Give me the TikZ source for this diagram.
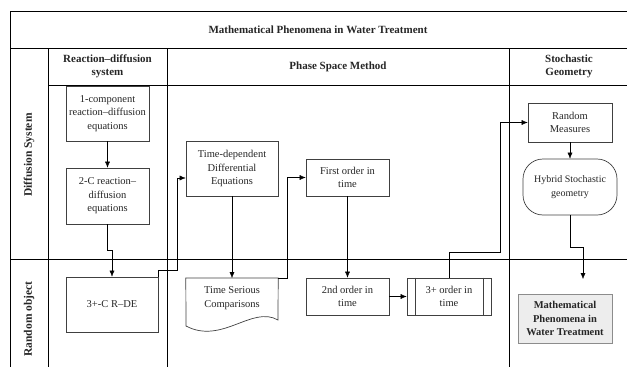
\documentclass[tikz,border=0pt]{standalone}
\usepackage{fontspec}
\setmainfont{Liberation Serif}
\usetikzlibrary{positioning, arrows.meta}
\tikzstyle{every node}=[font=\fontsize{10.5}{13.5}\selectfont, text=black!85]
\tikzstyle{block}=[draw=black!75, line width=0.7pt, rectangle, align=center, inner sep=1pt]
\tikzstyle{head}=[font=\fontsize{11}{13.5}\selectfont\bfseries, align=center]
\tikzstyle{lanebox}=[font=\fontsize{11.5}{13.5}\selectfont\bfseries, rotate=90]
\tikzstyle{grid}=[line width=0.8pt, black]

\begin{document}
\begin{tikzpicture}[x=1pt, y=-1pt, >={Latex[length=6pt, width=5pt]}]
            \useasboundingbox (0,0) rectangle (627,367);
            \draw[grid] (10,367) -- (10,11) -- (627,11);
            \draw[grid] (10,48) -- (627,48);
            \draw[grid] (48,85) -- (627,85);
            \draw[grid] (10,259) -- (627,259);
            \draw[grid] (48,48) -- (48,367);
            \draw[grid] (167,48) -- (167,367);
            \draw[grid] (509,48) -- (509,367);

            \node[head] (title) at (318,30) {Mathematical Phenomena in Water Treatment};
            \node[head] (hrd) at (107.5,66.5) {Reaction--diffusion\\system};
            \node[head] (hps) at (338,66.5) {Phase Space Method};
            \node[head] (hsg) at (569,66.5) {Stochastic\\Geometry};
            \node[lanebox] (ldiff) at (29,155) {Diffusion System};
            \node[lanebox] (lrand) at (29,319) {Random object};

            \node[block, minimum width=83, minimum height=55] (oneC) at (107.5,113.5) {1-component\\reaction--diffusion\\equations};
            \node[block, minimum width=83, minimum height=56] (twoC) at (107.5,196) {2-C reaction--\\diffusion\\equations};
            \node[block, minimum width=92, minimum height=55] (crde) at (112,304.5) {3+-C R--DE};
            \node[block, minimum width=92, minimum height=55] (tde) at (232,168.5) {Time-dependent\\Differential\\Equations};
            \node[minimum width=92, minimum height=40, align=center, anchor=north] (tsc) at (232,278) {Time Serious\\Comparisons};
            \draw[draw=black!75, line width=0.7pt] (tsc.north west) -- (tsc.north east) -- (278,320)
                .. controls (252,305) and (222,345) .. (186,326) -- cycle;
            \node[block, minimum width=83, minimum height=37] (first) at (347.5,177.5) {First order in\\time};
            \node[block, minimum width=83, minimum height=37] (second) at (347.5,296.5) {2nd order in\\time};
            \node[block, minimum width=84, minimum height=37] (third) at (449,296.5) {3+ order in\\time};
            \draw[draw=black!75, line width=0.7pt] ([xshift=9]third.north west) -- ([xshift=9]third.south west)
                ([xshift=-8]third.north east) -- ([xshift=-8]third.south east);
            \node[block, minimum width=84, minimum height=39] (rm) at (570,122.5) {Random\\Measures};
            \node[block, rounded corners=20, minimum width=94, minimum height=56, font=\fontsize{10}{13.5}\selectfont] (hyb) at (570,187) {Hybrid Stochastic\\geometry};
            \node[block, draw=black!45, fill=black!7, minimum width=94, minimum height=49, font=\fontsize{10.5}{13.5}\selectfont\bfseries] (math) at (565,318.5) {Mathematical\\Phenomena in\\Water Treatment};
            \coordinate (mathin) at (583,279);

            \draw[->] (oneC) -- (twoC);
            \draw[->] (twoC.south) -- ++(0,26) -| (crde.north);
            \draw[->] (crde.north east) -- ++(0,-6) -| (177,178) -- (tde.west |- 0,178);
            \draw[->] (tde.south) -- (tsc.north);
            \draw[->] (tsc.north east) -- ++(9,0) |- (first.west);
            \draw[->] (first) -- (second);
            \draw[->] (second) -- (third);
            \draw[->] (third.north) |- (500,252) |- (rm.west);
            \draw[->] (rm) -- (hyb);
            \draw[->] (hyb.south) -- ++(0,32) -| (mathin);
        \end{tikzpicture}
\end{document}
